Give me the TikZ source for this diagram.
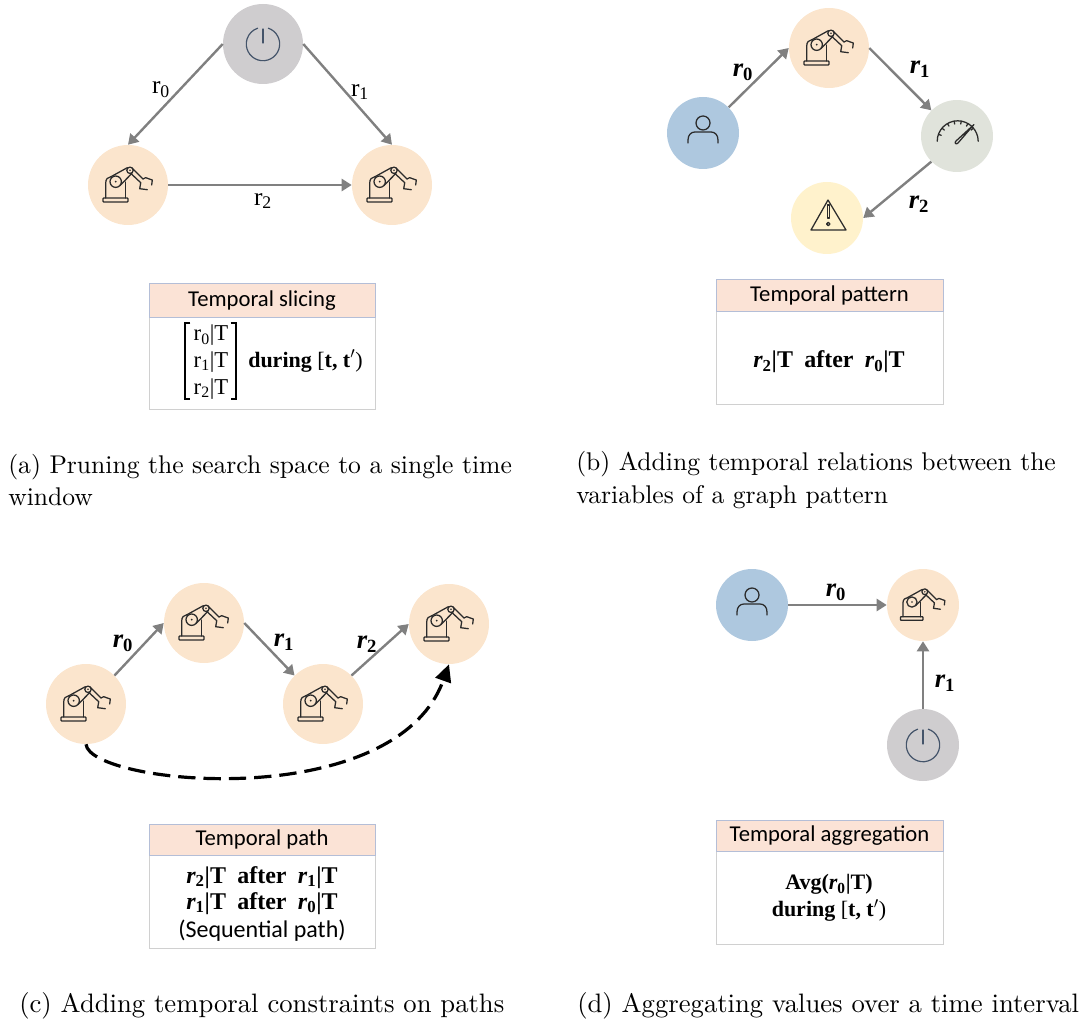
\documentclass[tikz,border=0pt]{standalone}
\usepackage{fontspec}
\usetikzlibrary{arrows.meta}
\newfontfamily\calfont{Carlito}
\newfontfamily\labfont{Liberation Serif}
\newfontfamily\capfont{lmroman10-regular}[Extension=.otf]
\definecolor{robotc}{HTML}{FBE5CD}
\definecolor{powerc}{HTML}{CFCDCF}
\definecolor{personc}{HTML}{AEC8DF}
\definecolor{gaugec}{HTML}{E0E3DB}
\definecolor{warnc}{HTML}{FFF2CC}
\definecolor{headc}{HTML}{FBE3D6}
\definecolor{ink}{HTML}{2B2B2B}
\definecolor{slate}{HTML}{44546A}
\newcommand{\ur}[1]{{\labfont r\textsubscript{#1}}}
\newcommand{\br}[1]{{\labfont\bfseries\itshape r\textsubscript{\upshape #1}}}
\newcommand{\dur}{during {\mdseries[}t, t$'${\mdseries)}}
\tikzset{
  x=0.75pt,y=-0.75pt,
  big/.style={circle,inner sep=0pt,minimum size=60pt},
  small/.style={circle,inner sep=0pt,minimum size=54pt},
  arr/.style={draw={rgb,255:red,128;green,128;blue,128},line width=1.8pt,-{Triangle[length=7.5pt,width=9pt]}},
  dasharr/.style={draw=black,line width=2.4pt,dash pattern=on 13pt off 6pt,-{Triangle[length=13pt,width=12pt]}},
  lab/.style={inner sep=0pt,font=\fontsize{19}{22}\selectfont},
  blab/.style={inner sep=0pt,font=\fontsize{20}{22}\selectfont},
  captext/.style={inner sep=0pt,anchor=west,align=left,font=\capfont\fontsize{20}{24.6}\selectfont},
  captwo/.style={inner sep=0pt,anchor=west,align=left,font=\capfont\fontsize{19.2}{24.2}\selectfont},
  headbox/.style={draw={rgb,255:red,180;green,190;blue,215},fill=headc,line width=0.6pt,inner sep=0pt,font=\calfont\fontsize{17}{20}\selectfont},
  framebox/.style={draw={rgb,255:red,208;green,208;blue,208},line width=0.6pt},
  bodybox/.style={inner sep=0pt,align=center,font=\labfont\bfseries\fontsize{18}{19.5}\selectfont},
  bracket/.style={draw=black,line width=0.8pt},
  icon/.style={draw=ink,line width=0.95pt,line join=round,line cap=round},
  robot/.pic={
    \draw[icon,rounded corners=0.5pt] (-25,13) rectangle (0,17);
    \draw[icon] (-22.3,13) -- (-22.3,-2) .. controls (-22.3,-6) and (-20,-8) .. (-17,-8.3);
    \draw[icon] (-2.7,13) -- (-2.7,-3);
    \draw[icon] (-12.3,-3.3) circle (5.7);
    \fill[ink] (-12.3,-3.3) circle (1);
    \draw[icon] (2,-14.7) circle (3.2);
    \fill[ink] (2,-14.7) circle (0.9);
    \draw[icon] (-17,-8.3) -- (-0.7,-17.3);
    \draw[icon] (-8,0.5) -- (4,-11.7);
    \draw[icon] (4.3,-16.7) -- (15,-6);
    \draw[icon] (2.7,-11.7) -- (12.7,-2.3);
    \draw[icon] (15,-6) -- (17.7,-7.3) -- (24.3,-5) -- (23.7,0);
    \draw[icon] (12.7,-2.3) -- (11.7,3.7) -- (19.3,4.7);
  },
  power/.pic={
    \draw[line width=0.9pt,draw=slate,line cap=round] (0,-15) -- (0,-1);
    \draw[line width=0.9pt,draw=slate] (5,-15.9) arc[start angle=-72.5,end angle=252.5,radius=16.7];
  },
  person/.pic={
    \draw[icon] (0,-10) circle (7);
    \draw[icon] (-15,10) -- (-15,7) .. controls (-15,2) and (-12,-1) .. (-8,-1) -- (8,-1) .. controls (12,-1) and (15,2) .. (15,7) -- (15,10);
  },
  gauge/.pic={
    \draw[icon] (-19.8,5.3) arc[start angle=180,end angle=360,radius=20.5];
    \foreach \a in {160,140,120,100,80,60,40} {\draw[icon] ({0.7+20.5*cos(\a)},{5.3-20.5*sin(\a)}) -- ({0.7+17.5*cos(\a)},{5.3-17.5*sin(\a)});}
    \draw[icon] (17,-11.5) -- (-1,5) .. controls (-3,7) and (-1,9) .. (1,7) -- cycle;
  },
  warning/.pic={
    \draw[icon] (1,-18) -- (-16,12) -- (19,12) -- cycle;
    \draw[icon] (0.2,-13) rectangle (2.4,0);
    \draw[icon] (1.3,6) circle (1.7);
  }
}
\begin{document}
\begin{tikzpicture}
\useasboundingbox (0,0) rectangle (1089,1023);
% panel a
\node[big,fill=powerc] (aP) at (263,44) {};
\node[big,fill=robotc] (aL) at (128,185) {};
\node[big,fill=robotc] (aR) at (392,185) {};
\pic at (aP.center) {power};
\pic at (aL.center) {robot};
\pic at (aR.center) {robot};
\draw[arr] (aP.west) -- (aL.north);
\draw[arr] (aP.east) -- (aR.north);
\draw[arr] (aL.east) -- (aR.west);
\node[lab] (a0) at (161,90) {\ur{0}};
\node[lab] (a1) at (360,92) {\ur{1}};
\node[lab] (a2) at (263,201) {\ur{2}};
\draw[framebox] (149,317) rectangle (375,409);
\node[headbox,minimum width=169.5pt,minimum height=25pt] (ah) at (262,300.5) {\raisebox{-2pt}{Temporal slicing}};
\node[inner sep=0pt,align=center,font=\labfont\fontsize{17}{20}\selectfont] (at) at (211,362) {\ur{0}|T\\\ur{1}|T\\\ur{2}|T};
\node[bodybox,anchor=west,font=\labfont\bfseries\fontsize{16.5}{19.5}\selectfont] (ab) at (248,361) {\dur};
\coordinate (bl1) at (185,323); \coordinate (bl2) at (185,399);
\coordinate (br1) at (236,323); \coordinate (br2) at (236,399);
\draw[bracket] ([xshift=4pt]bl1) -- (bl1) -- (bl2) -- ([xshift=4pt]bl2);
\draw[bracket] ([xshift=-4pt]br1) -- (br1) -- (br2) -- ([xshift=-4pt]br2);
\node[captwo] (ac) at (8,480) {(a) Pruning the search space to a single time\\window};
% panel b
\node[small,fill=personc] (bU) at (703,133) {};
\node[big,fill=robotc] (bR) at (829,48) {};
\node[small,fill=gaugec] (bG) at (957,136) {};
\node[small,fill=warnc] (bW) at (827,218) {};
\pic at (bU.center) {person};
\pic at (bR.center) {robot};
\pic at (bG.center) {gauge};
\pic at (bW.center) {warning};
\draw[arr] (bU.45) -- (bR.west);
\draw[arr] (bR.east) -- (bG.135);
\draw[arr] (bG.225) -- (bW.east);
\node[blab] (b0) at (743,72) {\br{0}};
\node[blab] (b1) at (920,69) {\br{1}};
\node[blab] (b2) at (919,204) {\br{2}};
\draw[framebox] (716,311) rectangle (943,404);
\node[headbox,minimum width=170.25pt,minimum height=24pt] (bh) at (829.5,295) {\raisebox{-2pt}{Temporal pattern}};
\node[bodybox] (bb) at (829,362) {\br{2}|T\hspace{4pt} after\hspace{4pt} \br{0}|T};
\node[captwo] (bc) at (576,480) {(b) Adding temporal relations between the\\variables of a graph pattern};
% panel c
\node[big,fill=robotc] (c1) at (86,704) {};
\node[big,fill=robotc] (c2) at (204,623) {};
\node[big,fill=robotc] (c3) at (323,704) {};
\node[big,fill=robotc] (c4) at (449,624) {};
\pic at (c1.center) {robot};
\pic at (c2.center) {robot};
\pic at (c3.center) {robot};
\pic at (c4.center) {robot};
\draw[arr] (c1.45) -- (c2.west);
\draw[arr] (c2.east) -- (c3.135);
\draw[arr] (c3.45) -- (c4.west);
\draw[dasharr] (c1.south) .. controls (90,785) and (395,815) .. (c4.south);
\node[blab] (c01) at (123,643) {\br{0}};
\node[blab] (c11) at (284,642) {\br{1}};
\node[blab] (c21) at (367,644) {\br{2}};
\draw[framebox] (149,855) rectangle (375,948);
\node[headbox,minimum width=169.5pt,minimum height=23.25pt] (ch) at (262,839.5) {\raisebox{-2pt}{Temporal path}};
\node[bodybox] (cb) at (262,904) {\br{2}|T\hspace{4pt} after\hspace{4pt} \br{1}|T\\\br{1}|T\hspace{4pt} after\hspace{4pt} \br{0}|T\\[2pt]\calfont\mdseries\fontsize{18}{19.5}\selectfont (Sequential path)};
\node[captext] (cc) at (19,1006) {(c) Adding temporal constraints on paths};
% panel d
\node[small,fill=personc] (dU) at (752,605) {};
\node[small,fill=robotc] (dR) at (923,605) {};
\node[small,fill=powerc] (dP) at (923,745) {};
\pic at (dU.center) {person};
\pic[scale=0.9] at (dR.center) {robot};
\pic at (dP.center) {power};
\draw[arr] (dU.east) -- (dR.west);
\draw[arr] (dP.north) -- (dR.south);
\node[blab] (d0) at (836,592) {\br{0}};
\node[blab] (d1) at (945,683) {\br{1}};
\draw[framebox] (716,851) rectangle (943,944);
\node[headbox,minimum width=170.25pt,minimum height=23.25pt] (dh) at (829.5,835.5) {\raisebox{-2pt}{Temporal aggregation}};
\node[bodybox,font=\labfont\bfseries\fontsize{16.5}{20}\selectfont] (db) at (829,898) {Avg(\br{0}|T)\\\dur};
\node[captext] (dc) at (577,1006) {(d) Aggregating values over a time interval};
\end{tikzpicture}
\end{document}
